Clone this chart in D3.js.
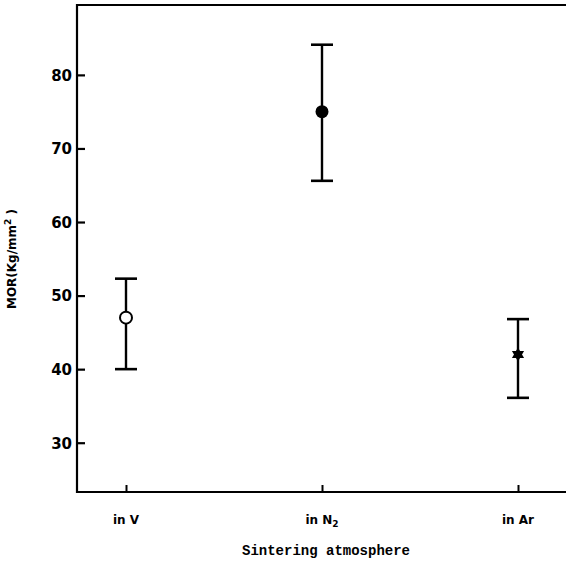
<!DOCTYPE html>
<html><head><meta charset="utf-8">
<script src="https://cdn.jsdelivr.net/npm/d3@7"></script>
<style>body{margin:0;background:#fff}svg{display:block}</style>
</head><body>
<script>
const categories = ["in V", "in N2", "in Ar"];
const means = [47, 75, 42];
const upper = [52.3, 84.1, 46.8];
const lower = [40, 65.6, 36.1];
const markers = ["open", "filled", "star"];
const yTicks = [30, 40, 50, 60, 70, 80];

const W = 566, H = 568;
const m = {left: 77, top: 5, right: 0, bottom: 76};
const svg = d3.select("body").append("svg").attr("width", W).attr("height", H);

const x = d3.scalePoint().domain(categories).range([126, 518]);
const y = d3.scaleLinear().domain([23.3, 89.5]).range([H - m.bottom, m.top]);
const SANS = "DejaVu Sans, Verdana, sans-serif";

const g = svg.append("g");
g.append("path").attr("d", `M${W},${m.top}H${m.left}V${H - m.bottom}H${W}`)
  .attr("fill", "none").attr("stroke", "#000").attr("stroke-width", 2.2);

const ya = g.append("g").attr("transform", `translate(${m.left},0)`)
  .call(d3.axisRight(y).tickValues(yTicks).tickSize(8).tickFormat(d3.format("d")));
ya.select(".domain").remove();
ya.selectAll(".tick line").attr("stroke-width", 2.2);
ya.selectAll(".tick text").attr("x", -5).attr("text-anchor", "end")
  .attr("font-family", SANS).attr("font-weight", "bold")
  .attr("font-size", 15).attr("dy", "0.36em");

const xa = g.append("g").attr("transform", `translate(0,${H - m.bottom})`)
  .call(d3.axisTop(x).tickSize(7).tickFormat(""));
xa.select(".domain").remove();
xa.selectAll(".tick line").attr("stroke-width", 2);

const lab = g.append("g").selectAll("text").data(categories).join("text")
  .attr("x", d => x(d)).attr("y", H - m.bottom + 32).attr("text-anchor", "middle")
  .attr("font-family", SANS).attr("font-weight", "bold")
  .attr("font-size", 12);
lab.each(function(d) {
  const t = d3.select(this);
  if (d === "in N2") {
    t.append("tspan").text("in N");
    t.append("tspan").attr("font-size", 9).attr("dy", 3).text("2");
  } else t.text(d);
});

const eb = g.append("g").selectAll("g").data(categories).join("g");
eb.append("line").attr("x1", d => x(d)).attr("x2", d => x(d))
  .attr("y1", (d, i) => y(upper[i])).attr("y2", (d, i) => y(lower[i]))
  .attr("stroke", "#000").attr("stroke-width", 2.4);
eb.append("line").attr("x1", d => x(d) - 11).attr("x2", d => x(d) + 11)
  .attr("y1", (d, i) => y(upper[i])).attr("y2", (d, i) => y(upper[i]))
  .attr("stroke", "#000").attr("stroke-width", 2.6);
eb.append("line").attr("x1", d => x(d) - 11).attr("x2", d => x(d) + 11)
  .attr("y1", (d, i) => y(lower[i])).attr("y2", (d, i) => y(lower[i]))
  .attr("stroke", "#000").attr("stroke-width", 2.6);

eb.each(function(d, i) {
  const s = d3.select(this), cx = x(d), cy = y(means[i]);
  if (markers[i] === "open") {
    s.append("circle").attr("cx", cx).attr("cy", cy).attr("r", 6)
      .attr("fill", "#fff").attr("stroke", "#000").attr("stroke-width", 2);
  } else if (markers[i] === "filled") {
    s.append("circle").attr("cx", cx).attr("cy", cy).attr("r", 6.5).attr("fill", "#000");
  } else {
    const r = 7;
    const tri = a => d3.range(3).map(k => {
      const ang = a + k * 2 * Math.PI / 3;
      return [cx + r * Math.sin(ang), cy - r * Math.cos(ang)];
    });
    s.append("path").attr("d", "M" + tri(0).join("L") + "Z" + "M" + tri(Math.PI).join("L") + "Z")
      .attr("fill", "#000");
  }
});

svg.append("text").attr("transform", `translate(16,259) rotate(-90)`).attr("text-anchor", "middle")
  .attr("font-family", SANS).attr("font-weight", "bold").attr("font-size", 12)
  .call(t => {
    t.append("tspan").text("MOR(Kg/mm");
    t.append("tspan").attr("font-size", 9).attr("dy", -5).text("2");
    t.append("tspan").attr("dy", 5).text(" )");
  });
svg.append("text").attr("x", 326).attr("y", 555).attr("text-anchor", "middle")
  .attr("font-family", "Liberation Mono, DejaVu Sans Mono, monospace").attr("font-weight", "bold")
  .attr("font-size", 14).text("Sintering atmosphere");
</script>
</body></html>
